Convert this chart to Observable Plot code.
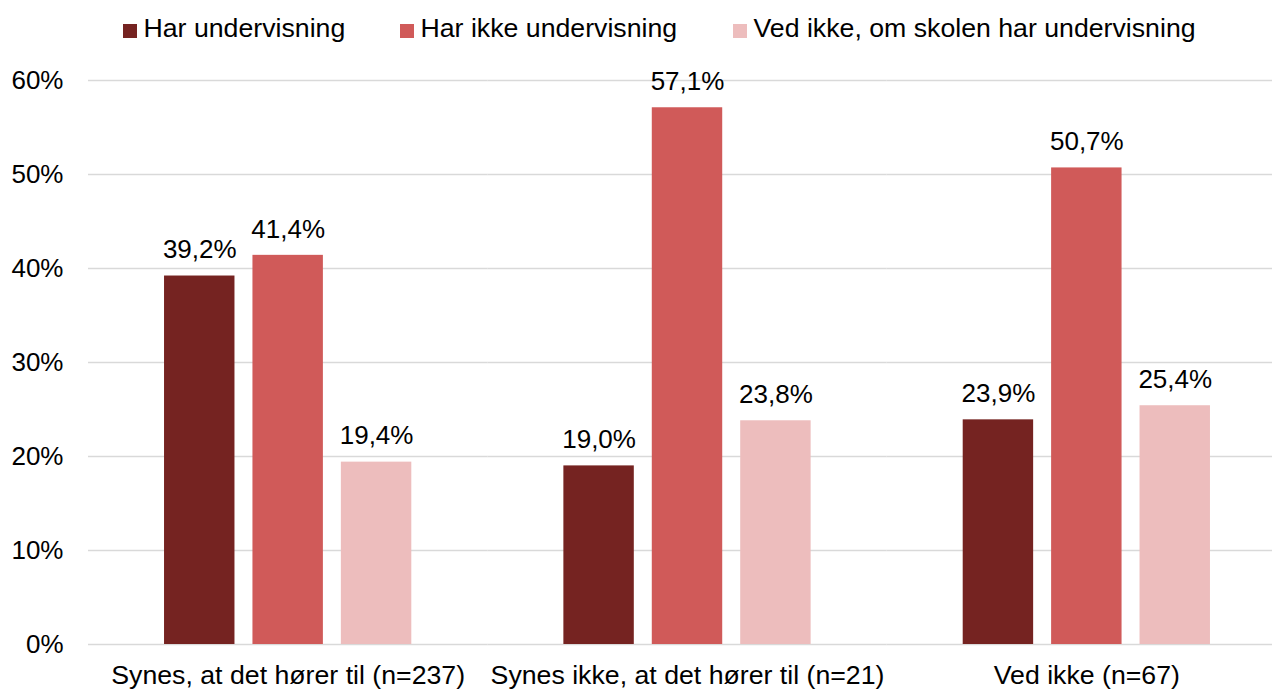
<!DOCTYPE html>
<html>
<head>
<meta charset="utf-8">
<script src="https://cdn.jsdelivr.net/npm/d3@7"></script>
<script src="https://cdn.jsdelivr.net/npm/@observablehq/plot@0.6"></script>
<style>
  body { margin: 0; background: #fff; font-family: "Liberation Sans", Arial, sans-serif; }
  #wrap { position: relative; width: 1272px; height: 689px; overflow: hidden; }
  #legend { position: absolute; left: 0; top: 13px; width: 1272px; height: 40px; font-size: 26.7px; color: #000; white-space: nowrap; }
  .item { position: absolute; top: 0; display: flex; align-items: center; }
  .sw { width: 14px; height: 14px; margin-right: 6.5px; margin-top: 4px; }
</style>
</head>
<body>
<div id="wrap"><div id="legend"></div></div>
<script>
const groups = ["Synes, at det hører til (n=237)", "Synes ikke, at det hører til (n=21)", "Ved ikke (n=67)"];
const series = ["Har undervisning", "Har ikke undervisning", "Ved ikke, om skolen har undervisning"];
const colors = ["#752321", "#D05A59", "#EDBDBD"];
const valuesHar = [39.2, 19.0, 23.9];
const valuesHarIkke = [41.4, 57.1, 50.7];
const valuesVedIkke = [19.4, 23.8, 25.4];
const yTicks = [0, 10, 20, 30, 40, 50, 60];
const legendLeft = [123, 400, 733];

const seriesValues = [valuesHar, valuesHarIkke, valuesVedIkke];
const data = [];
groups.forEach((g, gi) => series.forEach((s, si) => data.push({group: g, series: s, value: seriesValues[si][gi]})));

const fmt = v => v.toFixed(1).replace(".", ",") + "%";

const chart = Plot.plot({
  width: 1272,
  height: 689,
  marginTop: 80,
  marginBottom: 45,
  marginLeft: 88,
  marginRight: -14,
  style: {fontFamily: "'Liberation Sans', Arial, sans-serif", fontSize: "26px", color: "#000", background: "transparent"},
  fx: {domain: groups, padding: 0, label: null, round: false},
  x: {domain: series, paddingInner: 18 / 88.5, paddingOuter: 0.86, axis: null, round: false},
  y: {domain: [0, 60], label: null, axis: null},
  color: {domain: series, range: colors},
  marks: [
    Plot.ruleY(yTicks, {stroke: "#d9d9d9", strokeWidth: 1.6}),
    Plot.barY(data, {fx: "group", x: "series", y: "value", fill: "series"}),
    Plot.text(data, {fx: "group", x: "series", y: "value", text: d => fmt(d.value), lineAnchor: "middle", dy: -26, fill: "#000", fontSize: 26}),
    Plot.axisY(yTicks, {tickSize: 0, tickPadding: 25, tickFormat: d => d + "%", fontSize: 26, label: null}),
    Plot.axisFx({anchor: "bottom", tickSize: 0, tickPadding: 21, fontSize: 26.7, label: null})
  ]
});
document.getElementById("wrap").appendChild(chart);

const legend = document.getElementById("legend");
series.forEach((s, i) => {
  const it = document.createElement("div");
  it.className = "item";
  it.style.left = legendLeft[i] + "px";
  const sw = document.createElement("span");
  sw.className = "sw";
  sw.style.background = colors[i];
  const t = document.createElement("span");
  t.textContent = s;
  it.appendChild(sw); it.appendChild(t);
  legend.appendChild(it);
});
</script>
</body>
</html>
